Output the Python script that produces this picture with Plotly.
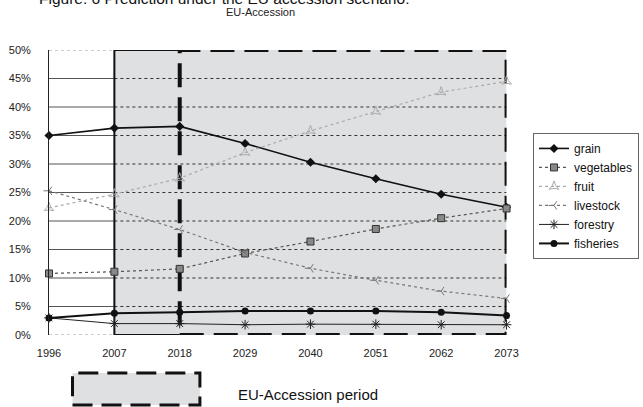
import plotly.graph_objects as go

years = [1996, 2007, 2018, 2029, 2040, 2051, 2062, 2073]
grain = [35.0, 36.3, 36.6, 33.6, 30.3, 27.4, 24.7, 22.4]
vegetables = [10.8, 11.1, 11.6, 14.3, 16.4, 18.6, 20.5, 22.2]
fruit = [22.3, 24.7, 27.5, 32.0, 35.8, 39.2, 42.6, 44.5]
livestock = [25.3, 22.0, 18.5, 14.5, 11.7, 9.6, 7.7, 6.4]
forestry = [3.0, 2.0, 2.0, 1.8, 1.9, 1.9, 1.8, 1.8]
fisheries = [3.0, 3.8, 4.0, 4.2, 4.2, 4.2, 4.0, 3.4]
y_ticks = [0, 5, 10, 15, 20, 25, 30, 35, 40, 45, 50]
y_labels = [f"{v}%" for v in y_ticks]
accession_start = 2007
accession_main = 2018

fig = go.Figure()

series = [
    ("grain", grain, dict(color="#111", width=1.6, dash="solid"),
     dict(symbol="diamond", size=7, color="#111")),
    ("vegetables", vegetables, dict(color="#555", width=1.2, dash="dot"),
     dict(symbol="square", size=7, color="#888", line=dict(color="#333", width=1))),
    ("fruit", fruit, dict(color="#aaa", width=1.2, dash="dot"),
     dict(symbol="star-triangle-up-open", size=7, color="#aaa", line=dict(color="#aaa", width=1))),
    ("livestock", livestock, dict(color="#777", width=1.2, dash="dot"),
     dict(symbol="y-left-open", size=7, color="#777", line=dict(color="#777", width=1))),
    ("forestry", forestry, dict(color="#222", width=1.0, dash="solid"),
     dict(symbol="asterisk-open", size=8, color="#222", line=dict(color="#222", width=1))),
    ("fisheries", fisheries, dict(color="#111", width=2.0, dash="solid"),
     dict(symbol="circle", size=7, color="#111")),
]
for name, vals, line, marker in series:
    fig.add_trace(go.Scatter(x=years, y=vals, name=name, mode="lines+markers",
                             line=line, marker=marker, cliponaxis=False))

x0, x1 = years[0], years[-1]
ymax = y_ticks[-1]
shapes = []
shapes.append(dict(type="rect", xref="x", yref="y", x0=accession_start, x1=x1, y0=0, y1=ymax,
                   fillcolor="#dfe0e2", line=dict(width=0), layer="below"))
for v in y_ticks:
    if 0 < v < ymax:
        shapes.append(dict(type="line", xref="x", yref="y", x0=x0, x1=accession_start, y0=v, y1=v,
                           line=dict(color="#555", width=1), layer="below"))
        shapes.append(dict(type="line", xref="x", yref="y", x0=accession_start, x1=x1, y0=v, y1=v,
                           line=dict(color="#333", width=1, dash="dot"), layer="below"))
    else:
        shapes.append(dict(type="line", xref="x", yref="y", x0=x0, x1=accession_start, y0=v, y1=v,
                           line=dict(color="#999", width=1, dash="dot"), layer="below"))
for (a, b, c, d) in [(accession_start, accession_main, ymax, ymax),
                     (accession_start, accession_main, 0, 0),
                     (accession_start, accession_start, 0, ymax)]:
    shapes.append(dict(type="line", xref="x", yref="y", x0=a, x1=b, y0=c, y1=d,
                       line=dict(color="#111", width=2), layer="below"))
shapes.append(dict(type="rect", xref="x", yref="y", x0=accession_main, x1=x1, y0=0, y1=ymax,
                   fillcolor="rgba(0,0,0,0)", line=dict(color="#111", width=4, dash="24px,10px"),
                   layer="below"))
shapes.append(dict(type="rect", xref="paper", yref="paper", x0=0.0404, x1=0.2593, y0=-0.2456, y1=-0.1333,
                   fillcolor="#dfe0e2", line=dict(color="#111", width=3, dash="20px,9px")))

fig.update_layout(
    width=643, height=407,
    margin=dict(l=49, r=0, t=50, b=72),
    paper_bgcolor="white", plot_bgcolor="white",
    font=dict(family="Liberation Sans, Arial, sans-serif", color="#222", size=11),
    showlegend=True,
    legend=dict(x=0.8316, y=0.709, xanchor="left", yanchor="top",
                bgcolor="white", bordercolor="#666", borderwidth=1,
                font=dict(size=12, color="#111"), tracegroupgap=0,
                itemwidth=30),
    shapes=shapes,
    xaxis=dict(domain=[0, 0.7862], range=[x0, x1], tickvals=years, ticktext=[str(y) for y in years],
               showgrid=False, zeroline=False, showline=False, ticks="",
               ticklabelstandoff=10, tickfont=dict(size=11)),
    yaxis=dict(range=[0, ymax], tickvals=y_ticks, ticktext=y_labels,
               showgrid=False, zeroline=False, showline=True, linecolor="#222", linewidth=1,
               ticks="", ticklabelstandoff=15, tickfont=dict(size=11)),
    annotations=[
        dict(text="Figure. 6 Prediction under the EU accession scenario:", xref="paper", yref="paper",
             x=0.301, y=1.179, xanchor="center", yanchor="middle", showarrow=False,
             font=dict(size=15.5, color="#111")),
        dict(text="EU-Accession", xref="paper", yref="paper",
             x=0.3636, y=1.1316, xanchor="center", yanchor="middle", showarrow=False,
             font=dict(size=11, color="#222")),
        dict(text="EU-Accession period", xref="paper", yref="paper",
             x=0.3215, y=-0.2105, xanchor="left", yanchor="middle", showarrow=False,
             font=dict(size=15, color="#111")),
    ],
)

fig.write_html("out.html", config={"displayModeBar": False},
               post_script="document.body.style.margin='0';")
